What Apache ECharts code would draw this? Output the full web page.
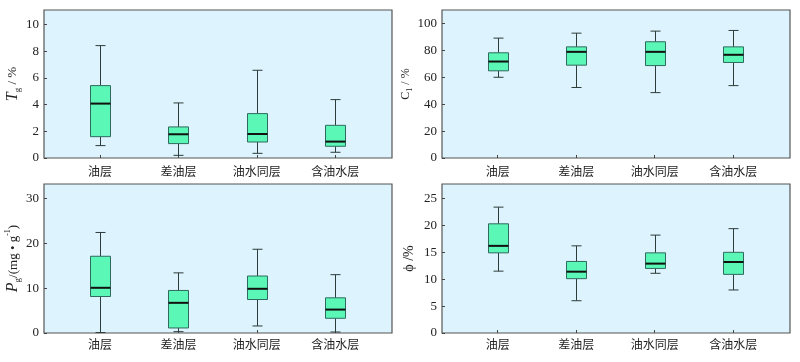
<!DOCTYPE html>
<html><head><meta charset="utf-8">
<script src="https://cdn.jsdelivr.net/npm/echarts@6/dist/echarts.min.js"></script>
<style>html,body{margin:0;padding:0;background:#fff}#c{width:800px;height:362px}</style>
</head><body><div id="c"></div>
<script>
const categories = ['油层', '差油层', '油水同层', '含油水层'];
// each box: [min, Q1, median, Q3, max]
const tgBoxes = [[0.93, 1.6, 4.08, 5.43, 8.43], [0.2, 1.08, 1.78, 2.33, 4.13], [0.35, 1.2, 1.8, 3.33, 6.58], [0.43, 0.88, 1.23, 2.45, 4.38]];
const c1Boxes = [[60.0, 64.8, 71.7, 78.2, 89.1], [52.4, 69.0, 78.9, 82.6, 92.8], [48.6, 68.7, 78.9, 86.4, 94.3], [53.8, 71.0, 76.7, 82.6, 94.8]];
const pgBoxes = [[0.1, 8.13, 10.07, 17.1, 22.4], [0.3, 1.12, 6.72, 9.48, 13.4], [1.57, 7.46, 9.85, 12.7, 18.66], [0.22, 3.28, 5.22, 7.84, 13.0]];
const phiBoxes = [[11.5, 14.9, 16.2, 20.3, 23.4], [6.0, 10.1, 11.4, 13.3, 16.2], [11.1, 12.0, 12.9, 14.9, 18.2], [8.0, 10.9, 13.2, 15.0, 19.4]];
const yRanges = [[0, 11.1, 2], [0, 110, 20], [0, 33.2, 10], [0, 27.7, 5]];

const panels = [
  {boxes: tgBoxes, frame: {left: 44, top: 10, width: 348, height: 148}, data: {left: 60.8, width: 313.6}, gap: 22, labelMargin: 7,
   name: '{it|T}{sub|g}{n| / %}'},
  {boxes: c1Boxes, frame: {left: 442, top: 10, width: 348, height: 148}, data: {left: 458.4, width: 314.1}, gap: 24, labelMargin: 7,
   name: '{s|C}{ssub|1}{s| / %}'},
  {boxes: pgBoxes, frame: {left: 44, top: 184, width: 348, height: 149}, data: {left: 60.8, width: 313.6}, gap: 21, labelMargin: 5,
   name: '{it|P}{sub|g}{n|/(mg • g}{sup|-1}{n|)}'},
  {boxes: phiBoxes, frame: {left: 442, top: 184, width: 348, height: 149}, data: {left: 458.4, width: 314.1}, gap: 25, labelMargin: 5,
   name: '{phi|ϕ /%}'}
];

const serif = '"Liberation Serif", "DejaVu Serif", serif';
const nameRich = {
  it: {fontFamily: serif, fontStyle: 'italic', fontSize: 16, color: '#222', lineHeight: 18},
  n: {fontFamily: serif, fontSize: 13, color: '#222', lineHeight: 18},
  sub: {fontFamily: serif, fontSize: 9, color: '#222', verticalAlign: 'bottom', lineHeight: 10, padding: [7, 0, 0, 0]},
  sup: {fontFamily: serif, fontSize: 8, color: '#222', verticalAlign: 'top', lineHeight: 8, padding: [0, 0, 6, 0]},
  s: {fontFamily: serif, fontSize: 12, color: '#222', lineHeight: 15},
  ssub: {fontFamily: serif, fontSize: 8, color: '#222', verticalAlign: 'bottom', lineHeight: 8, padding: [6, 0, 0, 0]},
  phi: {fontFamily: serif, fontSize: 14, color: '#222', lineHeight: 16}
};

function renderBox(params, api) {
  const x = api.value(0);
  const lo = api.coord([x, api.value(1)]);
  const q1 = api.coord([x, api.value(2)]);
  const med = api.coord([x, api.value(3)]);
  const q3 = api.coord([x, api.value(4)]);
  const hi = api.coord([x, api.value(5)]);
  const cx = Math.round(lo[0]) + 0.5;
  const hw = 10, cw = 5;
  const ws = {stroke: '#2d3b3a', lineWidth: 1};
  return {type: 'group', children: [
    {type: 'line', shape: {x1: cx, y1: hi[1], x2: cx, y2: q3[1]}, style: ws},
    {type: 'line', shape: {x1: cx, y1: q1[1], x2: cx, y2: lo[1]}, style: ws},
    {type: 'line', shape: {x1: cx - cw, y1: hi[1], x2: cx + cw, y2: hi[1]}, style: ws},
    {type: 'line', shape: {x1: cx - cw, y1: lo[1], x2: cx + cw, y2: lo[1]}, style: ws},
    {type: 'rect', shape: {x: cx - hw, y: q3[1], width: 2 * hw, height: q1[1] - q3[1]},
     style: {fill: '#5af7b6', stroke: '#2f6a5e', lineWidth: 1}},
    {type: 'line', shape: {x1: cx - hw, y1: med[1], x2: cx + hw, y2: med[1]}, style: {stroke: '#111', lineWidth: 2}}
  ]};
}

const grid = [], xAxis = [], yAxis = [], series = [];
panels.forEach((p, i) => {
  const [ymin, ymax, yint] = yRanges[i];
  grid.push(Object.assign({show: true, backgroundColor: '#ddf3fd', borderColor: '#555', borderWidth: 1.2}, p.frame));
  xAxis.push({gridIndex: 2 * i, type: 'value', show: false, min: 0, max: 1});
  yAxis.push({gridIndex: 2 * i, type: 'value', min: ymin, max: ymax, interval: yint,
    name: p.name, nameLocation: 'middle', nameRotate: 90, nameGap: p.gap,
    nameTextStyle: {rich: nameRich},
    axisLine: {show: false}, splitLine: {show: false},
    axisTick: {show: true, inside: true, length: 3, lineStyle: {color: '#444'}},
    axisLabel: {fontFamily: serif, fontSize: 13, color: '#222', margin: 5, showMaxLabel: false}});
  grid.push({left: p.data.left, width: p.data.width, top: p.frame.top, height: p.frame.height});
  xAxis.push({gridIndex: 2 * i + 1, type: 'category', data: categories, boundaryGap: true,
    axisLine: {show: false}, splitLine: {show: false},
    axisTick: {show: true, inside: true, alignWithLabel: true, length: 3, lineStyle: {color: '#444'}},
    axisLabel: {fontFamily: '"Noto Sans CJK SC", sans-serif', fontSize: 12, color: '#222', margin: p.labelMargin}});
  yAxis.push({gridIndex: 2 * i + 1, type: 'value', min: ymin, max: ymax, show: false});
  series.push({type: 'custom', xAxisIndex: 2 * i + 1, yAxisIndex: 2 * i + 1,
    renderItem: renderBox, encode: {x: 0, y: [1, 2, 3, 4, 5]},
    data: p.boxes.map((b, k) => [k].concat(b))});
});

const chart = echarts.init(document.getElementById('c'), null, {renderer: 'canvas'});
chart.setOption({animation: false, grid, xAxis, yAxis, series});
</script></body></html>
